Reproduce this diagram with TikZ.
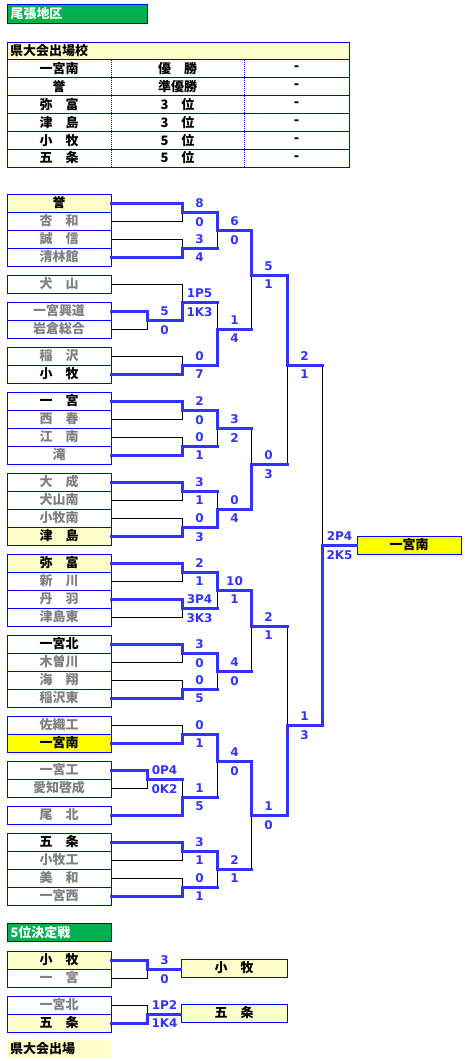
\documentclass[tikz,border=0pt]{standalone}
\usepackage{fontspec}
\newfontfamily\jp{Noto Sans CJK JP}
\newfontfamily\suji{DejaVu Sans}
\definecolor{waku}{HTML}{0000FF}
\definecolor{sen}{HTML}{3333FF}
\definecolor{usuki}{HTML}{FFFFCC}
\definecolor{kiiro}{HTML}{FFFF00}
\definecolor{midori}{HTML}{00B050}
\definecolor{hai}{HTML}{808080}

\begin{document}
\begin{tikzpicture}[x=1pt,y=-1pt,
    team/.style={draw=waku,line width=1pt,fill=white,text=hai,minimum width=104pt,minimum height=18pt,inner sep=0pt,font=\jp\bfseries\fontsize{13}{13}\selectfont},
    kachi/.style={text=black},
    ken/.style={text=black,fill=usuki},
    yusho/.style={text=black,fill=kiiro},
    midashi/.style={draw=waku,line width=1pt,fill=midori,text=white,anchor=west,inner sep=3pt,minimum height=18pt,align=left,font=\jp\bfseries\fontsize{13}{13}\selectfont},
    hyo/.style={text=black,inner sep=0pt,font=\jp\bfseries\fontsize{13}{13}\selectfont},
    win/.style={draw=sen,line width=3pt,line cap=rect},
    lose/.style={draw=black,line width=1pt},
    score/.style={text=sen,inner sep=1.5pt,font=\suji\bfseries\fontsize{12}{12}\selectfont}
]
\useasboundingbox (0,0) rectangle (476,1061);

% midashi
\node[midashi,text width=134pt] (owari) at (7,14) {尾張地区};

% kendai taikai
\fill[usuki] (7,42) rectangle (349,59.5);
\draw[waku,line width=1pt] (7,42) rectangle (349,167);
\foreach \i in {0,...,5}
    \draw[waku,line width=1pt] (7,{59.5+17.9*\i}) -- (349,{59.5+17.9*\i});
\draw[waku,line width=1pt,densely dotted] (111,59.5) -- (111,167) (244,59.5) -- (244,167);
\node[hyo,anchor=west] (hyo) at (10,51) {県大会出場校};
\foreach \i/\gk/\rk in {0/一宮南/優　勝,1/誉/準優勝,2/弥　富/3　位,3/津　島/3　位,4/小　牧/5　位,5/五　条/5　位} {
    \node[hyo] (ha\i) at (59,{68.5+17.9*\i}) {\gk};
    \node[hyo] (hb\i) at (177.5,{68.5+17.9*\i}) {\rk};
    \node[hyo,font=\suji\bfseries\fontsize{13}{13}\selectfont] (hc\i) at (296.5,{68.5+17.9*\i}) {-};
}

% teams
\foreach \r/\sty/\nm in {1/ken/誉,3/team/杏　和,5/team/誠　信,7/team/清林館,
    10/team/犬　山,13/team/一宮興道,15/team/岩倉総合,18/team/稲　沢,20/kachi/小　牧,
    23/kachi/一　宮,25/team/西　春,27/team/江　南,29/team/滝,
    32/team/大　成,34/team/犬山南,36/team/小牧南,38/ken/津　島,
    41/ken/弥　富,43/team/新　川,45/team/丹　羽,47/team/津島東,
    50/kachi/一宮北,52/team/木曽川,54/team/海　翔,56/team/稲沢東,
    59/team/佐織工,61/yusho/一宮南,64/team/一宮工,66/team/愛知啓成,69/team/尾　北,
    72/kachi/五　条,74/team/小牧工,76/team/美　和,78/team/一宮西}
    \node[team,\sty] (t\r) at (59,{194+9*\r}) {\nm};

\foreach \nm/\x/\r in {p14/147/14,p65/147/65,
    a2/182/2,a6/182/6,a12/182/12,a19/182/19,a24/182/24,a28/182/28,a33/182/33,a37/182/37,
    a42/182/42,a46/182/46,a51/182/51,a55/182/55,a60/182/60,a67/182/67,a73/182/73,a77/182/77,
    b4/217/4,b15/217/15,b26/217/26,b35/217/35,b44/217/44,b53/217/53,b63/217/63,b75/217/75,
    c9/251/9,c30/251/30,c48/251/48,c69/251/69,d19/287/19,d59/287/59,e39/322/39}
    \coordinate (\nm) at (\x,{194+9*\r});

\node[team,yusho] (yu) at (409,545) {一宮南};

% 5 i kettei
\node[midashi,text width=98pt] (goi) at (7,932.5) {5位決定戦};
\node[team,ken] (k1) at (59,960) {小　牧};
\node[team] (k2) at (59,978) {一　宮};
\node[team] (k3) at (59,1005) {一宮北};
\node[team,ken] (k4) at (59,1023) {五　条};
\coordinate (q1) at (147,969);
\coordinate (q2) at (147,1014);
\node[team,ken,minimum width=106pt] (r1) at (234,968) {小　牧};
\node[team,ken,minimum width=106pt] (r2) at (234,1013) {五　条};

\node[hyo,fill=usuki,anchor=west,inner sep=3pt,text width=98pt,minimum height=18pt] (kendai) at (7,1049) {県大会出場};

% lines
\foreach \ju/\ka/\ma in {p14/t13.east/t15.east,p65/t64.east/t66.east,
    a2/t1.east/t3.east,a6/t7.east/t5.east,a12/p14/t10.east,a19/t20.east/t18.east,
    a24/t23.east/t25.east,a28/t29.east/t27.east,a33/t32.east/t34.east,a37/t38.east/t36.east,
    a42/t41.east/t43.east,a46/t45.east/t47.east,a51/t50.east/t52.east,a55/t56.east/t54.east,
    a60/t61.east/t59.east,a73/t72.east/t74.east,a77/t78.east/t76.east,
    q1/k1.east/k2.east,q2/k4.east/k3.east} {
    \draw[lose] (\ma) -| (\ju);
    \draw[win] (\ka) -| (\ju);
}
\foreach \ju/\ka/\ma in {a67/t69.east/p65,b4/a2/a6,b15/a19/a12,b26/a24/a28,b35/a37/a33,
    b44/a42/a46,b53/a51/a55,b63/a60/a67,b75/a73/a77,
    c9/b4/b15,c30/b35/b26,c48/b44/b53,c69/b63/b75,d19/c9/c30,d59/c69/c48,e39/d59/d19} {
    \draw[lose] (\ma -| \ju) -- (\ju);
    \draw[win] (\ma) -- (\ma -| \ju);
    \draw[win] (\ka) -| (\ju);
}
\draw[win] (e39) -- (yu.west);
\draw[win] (q1) -- (q1 -| r1.west);
\draw[win] (q2) -- (q2 -| r2.west);

% scores
\foreach \ju/\ue/\shita in {p14/5/0,p65/0P4/0K2,a2/8/0,a6/3/4,a12/1P5/1K3,a19/0/7,a24/2/0,a28/0/1,
    a33/3/1,a37/0/3,a42/2/1,a46/3P4/3K3,a51/3/0,a55/0/5,a60/0/1,a67/1/5,a73/3/1,a77/0/1,
    b4/6/0,b15/1/4,b26/3/2,b35/0/4,b44/10/1,b53/4/0,b63/4/0,b75/2/1,
    c9/5/1,c30/0/3,c48/2/1,c69/1/0,d19/2/1,d59/1/3,e39/2P4/2K5,q1/3/0,q2/1P2/1K4} {
    \node[score,above=2.5pt] (\ju-ue) at ([xshift=17.5pt]\ju) {\ue};
    \node[score,below=3.5pt] (\ju-shita) at ([xshift=17.5pt]\ju) {\shita};
}

\end{tikzpicture}
\end{document}
